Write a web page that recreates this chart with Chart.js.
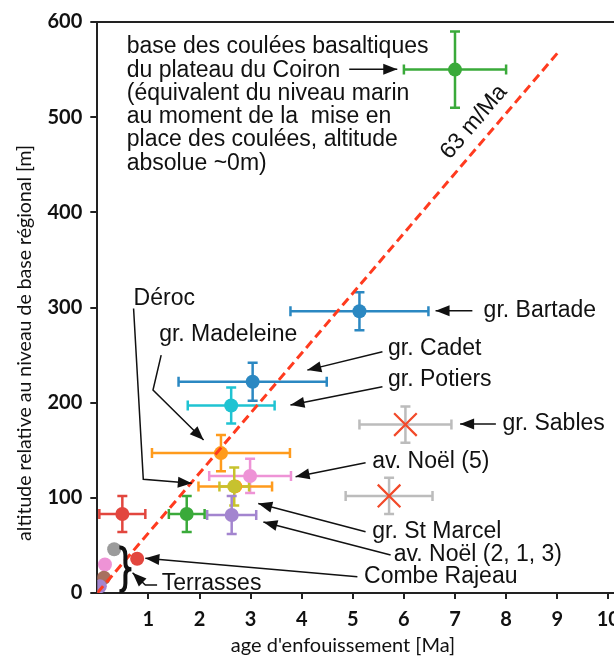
<!DOCTYPE html>
<html>
<head>
<meta charset="utf-8">
<script src="https://cdn.jsdelivr.net/npm/chart.js@4.4.0/dist/chart.umd.min.js"></script>
<style>
  html, body { margin: 0; padding: 0; background: #fff; overflow: hidden; }
  canvas { display: block; }
</style>
</head>
<body>
<canvas id="chart" width="638" height="658"></canvas>
<script>
// burial age [Ma] vs relative altitude [m]
const names   = ['Coiron', 'Bartade', 'Cadet', 'Potiers', 'Madeleine', 'Noël 5', 'Déroc', 'St Marcel',
                 'Noël 2,1,3', 'vert', 'rouge', 'Combe Rajeau', 'T1', 'T2', 'T3', 'T4', 'Sables', 'Sables 2'];
const ages    = [7.0, 5.13, 3.04, 2.62, 2.42, 2.99, 2.70, 2.68, 2.63, 1.75, 0.49, 0.78, 0.33, 0.15, 0.13, 0.05, 6.03, 5.71];
const ageErr  = [1.0, 1.35, 1.45, 0.85, 1.35, 0.80, 0.72, 0.29, 0.48, 0.35, 0.45, 0, 0, 0, 0, 0, 0.90, 0.85];
const alts    = [550, 296, 222, 197, 147, 123, 112, 112, 82, 83, 83, 36, 46, 30, 16, 7, 177, 102];
const altErr  = [40, 20, 20, 19, 19, 18, 0, 20, 20, 19, 19, 0, 0, 0, 0, 0, 19, 19];
const rejected = [16, 17];          // crossed-out samples

const colors    = ['#3aaa3a', '#2b88c2', '#2b88c2', '#1fc3d2', '#ff9b1c', '#ee93d6', '#ff9b1c', '#c7c22e',
                   '#a385cf', '#3aaa3a', '#e2463e', '#e2463e', '#9b9b9b', '#ee93d6', '#a8705f', '#a385cf', '#bcbcbc', '#bcbcbc'];

const rate = 63;                    // m/Ma
const trendEnd = 9.05;

const xTicks = [1, 2, 3, 4, 5, 6, 7, 8, 9, 10];
const yTicks = [0, 100, 200, 300, 400, 500, 600];
const pxPerMa = 51.1;               // x-axis spacing of the original figure

// annotations, in data units
const blockText = ['base des coulées basaltiques', 'du plateau du Coiron', '(équivalent du niveau marin',
                   'au moment de la  mise en', 'place des coulées, altitude', 'absolue ~0m)'];
const labels = [
  ['gr. Bartade', 7.56, 296.5], ['gr. Cadet', 5.69, 256.3], ['gr. Potiers', 5.69, 223.7],
  ['gr. Sables', 7.93, 177.5], ['av. Noël (5)', 5.38, 137.9], ['gr. St Marcel', 5.38, 64.4],
  ['av. Noël (2, 1, 3)', 5.80, 39.9], ['Combe Rajeau', 5.22, 17.1], ['Terrasses', 1.26, 10.2],
  ['Déroc', 0.71, 309.6], ['gr. Madeleine', 1.21, 271.0]
];
const arrows = [
  [[4.93, 550.4], [5.87, 550.4]],
  [[7.34, 296.5], [6.62, 296.5]],
  [[5.58, 253.5], [4.11, 234.2]],
  [[5.58, 216.7], [3.78, 197.5]],
  [[7.80, 177.5], [7.10, 177.5]],
  [[5.25, 136.9], [3.88, 122.2]],
  [[5.25, 64.4], [3.15, 94.0]],
  [[5.74, 39.9], [3.25, 74.6]],
  [[5.09, 17.1], [0.94, 36.4]],
  [[1.17, 8.4], [0.94, 8.4], [0.69, 21.3]],
  [[0.71, 299], [0.90, 119.4], [1.85, 115.2]],
  [[1.25, 250], [1.09, 213.2], [2.08, 160.7]]
];

const circles = [], crosses = [];
ages.forEach((a, i) => {
  (rejected.includes(i) ? crosses : circles).push({ x: a, y: alts[i], c: colors[i] });
});

const drawing = {
  id: 'drawing',
  beforeDatasetsDraw(chart) {
    const { ctx, chartArea, scales: { x, y } } = chart;
    ctx.save();
    // top frame line
    ctx.strokeStyle = '#222';
    ctx.lineWidth = 2;
    ctx.beginPath();
    ctx.moveTo(chartArea.left, chartArea.top);
    ctx.lineTo(chartArea.right, chartArea.top);
    ctx.stroke();

    // error bars
    ctx.lineWidth = 2.5;
    const cap = 5;
    ages.forEach((a, i) => {
      ctx.strokeStyle = colors[i];
      const cx = x.getPixelForValue(a), cy = y.getPixelForValue(alts[i]);
      if (ageErr[i] > 0) {
        const x0 = x.getPixelForValue(a - ageErr[i]), x1 = x.getPixelForValue(a + ageErr[i]);
        ctx.beginPath();
        ctx.moveTo(x0, cy); ctx.lineTo(x1, cy);
        ctx.moveTo(x0, cy - cap); ctx.lineTo(x0, cy + cap);
        ctx.moveTo(x1, cy - cap); ctx.lineTo(x1, cy + cap);
        ctx.stroke();
      }
      if (altErr[i] > 0) {
        const y0 = y.getPixelForValue(alts[i] - altErr[i]), y1 = y.getPixelForValue(alts[i] + altErr[i]);
        ctx.beginPath();
        ctx.moveTo(cx, y0); ctx.lineTo(cx, y1);
        ctx.moveTo(cx - cap, y0); ctx.lineTo(cx + cap, y0);
        ctx.moveTo(cx - cap, y1); ctx.lineTo(cx + cap, y1);
        ctx.stroke();
      }
    });
    ctx.restore();
  },
  afterDraw(chart) {
    const { ctx, scales: { x, y } } = chart;
    const P = (d) => [x.getPixelForValue(d[0]), y.getPixelForValue(d[1])];
    ctx.save();
    ctx.fillStyle = '#111';
    ctx.strokeStyle = '#111';

    // axis titles
    ctx.textAlign = 'center';
    ctx.textBaseline = 'middle';
    ctx.font = '20px Lato';
    ctx.fillText("age d'enfouissement [Ma]", 343, 646);
    ctx.save();
    ctx.font = '19.5px Lato';
    ctx.translate(25, 343);
    ctx.rotate(-Math.PI / 2);
    ctx.fillText('altitude relative au niveau de base régional [m]', 0, 0);
    ctx.restore();

    // text block
    ctx.font = '23px "Liberation Sans", Arial, sans-serif';
    ctx.textAlign = 'left';
    const [bx, by] = P([0.576, 573.8]);
    blockText.forEach((t, k) => ctx.fillText(t, bx, by + k * 23.3));

    labels.forEach(([t, lx, ly]) => {
      const [px, py] = P([lx, ly]);
      ctx.fillText(t, px, py);
    });

    // arrows
    ctx.lineWidth = 1.5;
    arrows.forEach(pts => {
      const p = pts.map(P);
      ctx.beginPath();
      ctx.moveTo(p[0][0], p[0][1]);
      for (let k = 1; k < p.length; k++) ctx.lineTo(p[k][0], p[k][1]);
      ctx.stroke();
      const [tx, ty] = p[p.length - 1], [sx, sy] = p[p.length - 2];
      const ang = Math.atan2(ty - sy, tx - sx);
      const L = 14, W = 5.5;
      ctx.beginPath();
      ctx.moveTo(tx, ty);
      ctx.lineTo(tx - L * Math.cos(ang) + W * Math.sin(ang), ty - L * Math.sin(ang) - W * Math.cos(ang));
      ctx.lineTo(tx - L * Math.cos(ang) - W * Math.sin(ang), ty - L * Math.sin(ang) + W * Math.cos(ang));
      ctx.closePath();
      ctx.fill();
    });

    // brace for the terraces
    const [rx, ry] = P([0.55, 25]);
    ctx.lineWidth = 4;
    ctx.beginPath();
    ctx.moveTo(rx - 6, ry - 22);
    ctx.quadraticCurveTo(rx, ry - 22, rx, ry - 14);
    ctx.lineTo(rx, ry - 6);
    ctx.quadraticCurveTo(rx, ry, rx + 6, ry);
    ctx.quadraticCurveTo(rx, ry, rx, ry + 6);
    ctx.lineTo(rx, ry + 14);
    ctx.quadraticCurveTo(rx, ry + 22, rx - 6, ry + 22);
    ctx.stroke();

    // slope label
    const [ax, ay] = P([0, 0]), [ex, ey] = P([trendEnd, rate * trendEnd]);
    const [lx, ly] = P([7.37, 494.7]);
    ctx.translate(lx, ly);
    ctx.rotate(Math.atan2(ey - ay, ex - ax));
    ctx.textAlign = 'center';
    ctx.fillText(rate + ' m/Ma', 0, 0);
    ctx.restore();
  }
};

const chart = new Chart(document.getElementById('chart'), {
  type: 'scatter',
  data: {
    datasets: [
      {
        label: '63 m/Ma',
        data: [{ x: 0, y: 0 }, { x: trendEnd, y: rate * trendEnd }],
        showLine: true,
        borderColor: '#ff3b1f',
        borderWidth: 3,
        borderDash: [9, 5],
        pointRadius: 0,
        order: 0
      },
      {
        label: 'samples',
        data: circles,
        backgroundColor: circles.map(p => p.c),
        borderWidth: 0,
        pointRadius: 7,
        clip: 0,
        order: 1
      },
      {
        label: 'rejected',
        data: crosses,
        pointStyle: 'crossRot',
        borderColor: '#f24a2a',
        borderWidth: 2.2,
        pointRadius: 16,
        order: 1
      }
    ]
  },
  options: {
    responsive: false,
    animation: false,
    layout: { padding: { top: 22, right: 0, bottom: 0, left: 0 } },
    plugins: { legend: { display: false }, tooltip: { enabled: false } },
    scales: {
      x: {
        type: 'linear',
        min: 0, max: 10.6,
        afterFit: s => { s.height = 65; },
        afterBuildTicks: s => { s.ticks = xTicks.map(v => ({ value: v })); },
        border: { display: true, color: '#222', width: 2 },
        grid: { drawOnChartArea: false, drawTicks: true, tickLength: 6, color: '#222', lineWidth: 2 },
        ticks: { padding: 9, color: '#111', font: { family: 'Lato', size: 20, weight: 'bold' } }
      },
      y: {
        type: 'linear',
        min: 0, max: 600,
        afterFit: s => { s.width = 97.3; },
        afterBuildTicks: s => { s.ticks = yTicks.map(v => ({ value: v })); },
        border: { display: true, color: '#222', width: 2 },
        grid: { drawOnChartArea: false, drawTicks: true, tickLength: 7, color: '#222', lineWidth: 2 },
        ticks: { padding: 8, color: '#111', font: { family: 'Lato', size: 20, weight: 'bold' } }
      }
    }
  },
  plugins: [drawing]
});

// stretch the x range so one Ma spans the same width as in the original
chart.options.scales.x.max = (chart.chartArea.right - chart.chartArea.left) / pxPerMa;
chart.update();
</script>
</body>
</html>
